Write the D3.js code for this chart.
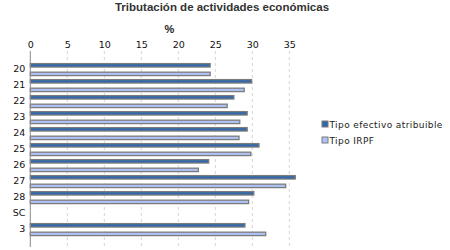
<!DOCTYPE html>
<html>
<head>
<meta charset="utf-8">
<script src="https://cdn.jsdelivr.net/npm/d3@7"></script>
<style>
	body { margin: 0; background: #fff; }
	svg { display: block; font-family: "Liberation Sans", Arial, sans-serif; }
	.grid line { stroke: #d4d4d4; stroke-dasharray: 3,3; }
</style>
</head>
<body>
<div id="chart"></div>
<script>

var categories = ["20", "21", "22", "23", "24", "25", "26", "27", "28", "SC", "3"];
var seriesNames = ["Tipo efectivo atribuible", "Tipo IRPF"];
var efectivo = [24.4, 30.0, 27.6, 29.4, 29.4, 31.0, 24.2, 35.9, 30.3, null, 29.1];
var irpf = [24.4, 29.0, 26.7, 28.4, 28.3, 29.9, 22.8, 34.6, 29.6, null, 31.9];
var xTicks = [0, 5, 10, 15, 20, 25, 30, 35];
var colors = ["#3168a8", "#adc3f4"];

var chart = {
	width: 450,
	height: 250,
	left: 30.3,
	top: 61,
	gridTop: 51,
	gridBottom: 247
};

var tickFont = '"DejaVu Sans", Verdana, sans-serif';

var rows = categories.map(function (c, i) {
	return { cat: c, values: [efectivo[i], irpf[i]] };
});

var svg = d3.select('#chart')
	.append('svg')
	.attr('width', chart.width)
	.attr('height', chart.height);

svg.append('text')
	.attr('x', 222)
	.attr('y', 11)
	.attr('text-anchor', 'middle')
	.style('font-size', '11.5px')
	.style('font-weight', 'bold')
	.attr('fill', '#333')
	.text('Tributación de actividades económicas');

var xScale = d3.scaleLinear()
	.domain([0, 36])
	.range([chart.left, chart.left + 36 * 7.4]);

var yScale = d3.scaleBand()
	.domain(categories)
	.range([chart.top, chart.top + 16 * categories.length]);

var subScale = d3.scaleBand()
	.domain([0, 1])
	.range([2.6, 14.6])
	.paddingInner(0.6);

// gridlines, dashed
svg.append('g')
	.attr('class', 'grid')
	.selectAll('line')
	.data(xTicks.slice(1))
	.enter().append('line')
	.attr('x1', function (d) { return xScale(d); })
	.attr('x2', function (d) { return xScale(d); })
	.attr('y1', chart.gridTop)
	.attr('y2', chart.gridBottom);

// top axis labels
var xAxis = d3.axisTop(xScale)
	.tickValues(xTicks)
	.tickSize(0)
	.tickPadding(0);

var gx = svg.append('g')
	.attr('transform', 'translate(0,48)')
	.call(xAxis);
gx.select('.domain').remove();
gx.selectAll('text')
	.style('font-size', '9.5px')
	.style('font-family', tickFont)
	.attr('fill', '#111');

svg.append('text')
	.attr('x', 169.5)
	.attr('y', 33)
	.attr('text-anchor', 'middle')
	.style('font-size', '11px')
	.style('font-weight', 'bold')
	.attr('fill', '#222')
	.text('%');

var bars = svg.append('g');

var groups = bars.selectAll('.row')
	.data(rows)
	.enter().append('g')
	.attr('class', 'row')
	.attr('transform', function (d) { return 'translate(0,' + yScale(d.cat) + ')'; });

groups.selectAll('rect')
	.data(function (d) {
		return d.values.map(function (v, k) { return { v: v, k: k }; })
			.filter(function (e) { return e.v != null; });
	})
	.enter().append('rect')
	.attr('x', xScale(0))
	.attr('y', function (d) { return subScale(d.k); })
	.attr('width', function (d) { return xScale(d.v) - xScale(0) - 0.7; })
	.attr('height', subScale.bandwidth())
	.attr('fill', function (d) { return colors[d.k]; })
	.style('stroke', '#7c7c7c')
	.style('stroke-width', 1.3);

// left axis
var yAxis = d3.axisLeft(yScale)
	.tickSize(0)
	.tickPadding(5);

var gy = svg.append('g')
	.attr('transform', 'translate(' + chart.left + ',0)')
	.call(yAxis);
gy.select('.domain').remove();
gy.selectAll('text')
	.style('font-size', '9.5px')
	.style('font-family', tickFont)
	.attr('dy', '0.35em')
	.attr('fill', '#111');

svg.append('line')
	.attr('x1', chart.left)
	.attr('x2', chart.left)
	.attr('y1', chart.gridTop)
	.attr('y2', chart.gridBottom)
	.style('stroke', '#8a8a8a')
	.style('stroke-width', 1);

// legend
var legend = svg.append('g')
	.attr('transform', 'translate(322,121)');

var item = legend.selectAll('g')
	.data(seriesNames)
	.enter().append('g')
	.attr('transform', function (d, i) { return 'translate(0,' + i * 16 + ')'; });

item.append('rect')
	.attr('width', 6)
	.attr('height', 6)
	.attr('fill', function (d, i) { return colors[i]; })
	.style('stroke', '#7c7c7c')
	.style('stroke-width', 1);

item.append('text')
	.attr('x', 7.5)
	.attr('y', 3.5)
	.attr('dy', '0.35em')
	.style('font-size', '9px')
	.style('letter-spacing', '0.4px')
	.style('font-family', tickFont)
	.attr('fill', '#222')
	.text(function (d) { return d; });

</script>
</body>
</html>
